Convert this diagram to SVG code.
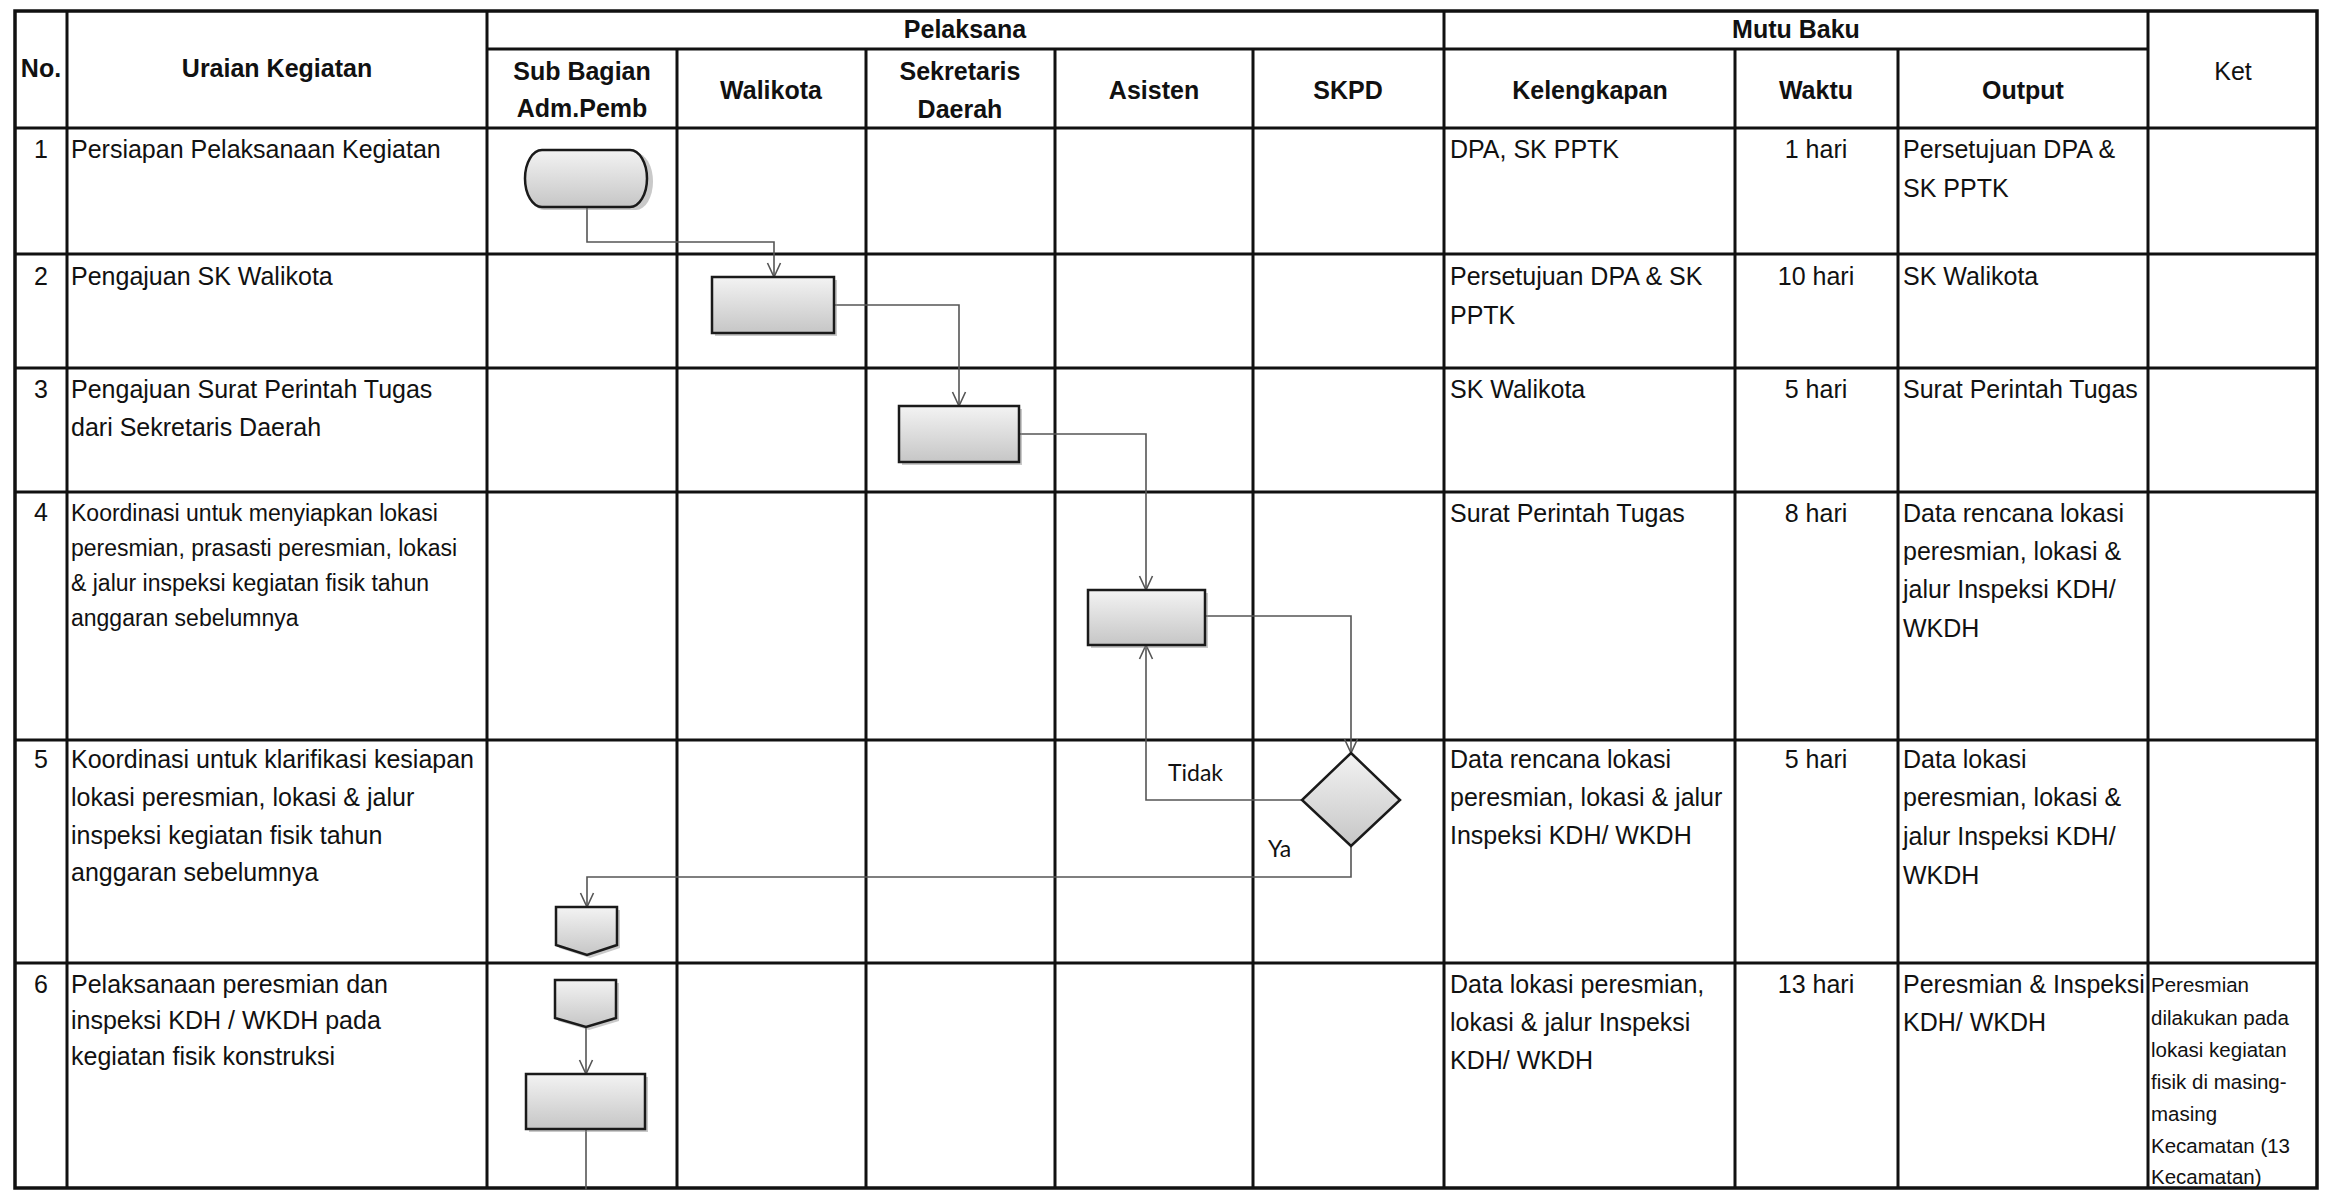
<svg xmlns="http://www.w3.org/2000/svg" width="2329" height="1190" viewBox="0 0 2329 1190">
<defs>
<linearGradient id="gf" x1="0" y1="0" x2="0" y2="1">
<stop offset="0" stop-color="#f3f3f3"/>
<stop offset="1" stop-color="#c6c6c6"/>
</linearGradient>
<marker id="arr" markerUnits="userSpaceOnUse" viewBox="0 0 16 16" refX="15" refY="8" markerWidth="16" markerHeight="16" orient="auto">
<path d="M1,1.5 L15,8 L1,14.5" fill="none" stroke="#555" stroke-width="1.6"/>
</marker>
</defs>
<style>
.g{stroke:#111;stroke-width:3;fill:none}
.o{stroke:#111;stroke-width:3.5;fill:none}
.t{font-family:"Liberation Sans",Arial,sans-serif;font-size:25px;fill:#111}
.t4{font-family:"Liberation Sans",Arial,sans-serif;font-size:23px;fill:#111}
.s{font-family:"Liberation Sans",Arial,sans-serif;font-size:20.5px;fill:#111}
.b{font-family:"Liberation Sans",Arial,sans-serif;font-size:25px;font-weight:bold;fill:#111;text-anchor:middle}
.c{text-anchor:middle}
.l{font-family:Lato,"Open Sans",sans-serif;font-size:23px;fill:#111}
.sh{fill:url(#gf);stroke:#1a1a1a;stroke-width:2.5}
.shd{fill:#888;opacity:0.45}
.cn{fill:none;stroke:#555;stroke-width:1.6}
</style>
<rect width="2329" height="1190" fill="#fff"/>

<g id="table">
<rect class="o" x="15" y="11" width="2302" height="1177"/>
<line class="g" x1="487" y1="49" x2="2148" y2="49"/>
<line class="g" x1="15" y1="128" x2="2317" y2="128"/>
<line class="g" x1="15" y1="254" x2="2317" y2="254"/>
<line class="g" x1="15" y1="368" x2="2317" y2="368"/>
<line class="g" x1="15" y1="492" x2="2317" y2="492"/>
<line class="g" x1="15" y1="740" x2="2317" y2="740"/>
<line class="g" x1="15" y1="963" x2="2317" y2="963"/>
<line class="g" x1="67" y1="11" x2="67" y2="1188"/>
<line class="g" x1="487" y1="11" x2="487" y2="1188"/>
<line class="g" x1="677" y1="49" x2="677" y2="1188"/>
<line class="g" x1="866" y1="49" x2="866" y2="1188"/>
<line class="g" x1="1055" y1="49" x2="1055" y2="1188"/>
<line class="g" x1="1253" y1="49" x2="1253" y2="1188"/>
<line class="g" x1="1444" y1="11" x2="1444" y2="1188"/>
<line class="g" x1="1735" y1="49" x2="1735" y2="1188"/>
<line class="g" x1="1898" y1="49" x2="1898" y2="1188"/>
<line class="g" x1="2148" y1="11" x2="2148" y2="1188"/>
</g>

<g id="header">
<text class="b" x="41" y="77">No.</text>
<text class="b" x="277" y="77">Uraian Kegiatan</text>
<text class="b" x="965" y="38">Pelaksana</text>
<text class="b" x="1796" y="38">Mutu Baku</text>
<text class="b" x="582" y="80">Sub Bagian</text>
<text class="b" x="582" y="117">Adm.Pemb</text>
<text class="b" x="771" y="99">Walikota</text>
<text class="b" x="960" y="80">Sekretaris</text>
<text class="b" x="960" y="118">Daerah</text>
<text class="b" x="1154" y="99">Asisten</text>
<text class="b" x="1348" y="99">SKPD</text>
<text class="b" x="1590" y="99">Kelengkapan</text>
<text class="b" x="1816" y="99">Waktu</text>
<text class="b" x="2023" y="99">Output</text>
<text class="t c" x="2233" y="80">Ket</text>
</g>

<g id="row1">
<text class="t c" x="41" y="158">1</text>
<text class="t" x="71" y="158">Persiapan Pelaksanaan Kegiatan</text>
<text class="t" x="1450" y="158">DPA, SK PPTK</text>
<text class="t c" x="1816" y="158">1 hari</text>
<text class="t" x="1903" y="158">Persetujuan DPA &amp;</text>
<text class="t" x="1903" y="197">SK PPTK</text>
</g>
<g id="row2">
<text class="t c" x="41" y="285">2</text>
<text class="t" x="71" y="285">Pengajuan SK Walikota</text>
<text class="t" x="1450" y="285">Persetujuan DPA &amp; SK</text>
<text class="t" x="1450" y="324">PPTK</text>
<text class="t c" x="1816" y="285">10 hari</text>
<text class="t" x="1903" y="285">SK Walikota</text>
</g>
<g id="row3">
<text class="t c" x="41" y="398">3</text>
<text class="t" x="71" y="398">Pengajuan Surat Perintah Tugas</text>
<text class="t" x="71" y="436">dari Sekretaris Daerah</text>
<text class="t" x="1450" y="398">SK Walikota</text>
<text class="t c" x="1816" y="398">5 hari</text>
<text class="t" x="1903" y="398">Surat Perintah Tugas</text>
</g>
<g id="row4">
<text class="t c" x="41" y="521">4</text>
<text class="t4" x="71" y="521">Koordinasi untuk menyiapkan lokasi</text>
<text class="t4" x="71" y="556">peresmian, prasasti peresmian, lokasi</text>
<text class="t4" x="71" y="591">&amp; jalur inspeksi kegiatan fisik tahun</text>
<text class="t4" x="71" y="626">anggaran sebelumnya</text>
<text class="t" x="1450" y="522">Surat Perintah Tugas</text>
<text class="t c" x="1816" y="522">8 hari</text>
<text class="t" x="1903" y="522">Data rencana lokasi</text>
<text class="t" x="1903" y="560">peresmian, lokasi &amp;</text>
<text class="t" x="1903" y="598">jalur Inspeksi KDH/</text>
<text class="t" x="1903" y="637">WKDH</text>
</g>
<g id="row5">
<text class="t c" x="41" y="768">5</text>
<text class="t" x="71" y="768">Koordinasi untuk klarifikasi kesiapan</text>
<text class="t" x="71" y="806">lokasi peresmian, lokasi &amp; jalur</text>
<text class="t" x="71" y="844">inspeksi kegiatan fisik tahun</text>
<text class="t" x="71" y="881">anggaran sebelumnya</text>
<text class="t" x="1450" y="768">Data rencana lokasi</text>
<text class="t" x="1450" y="806">peresmian, lokasi &amp; jalur</text>
<text class="t" x="1450" y="844">Inspeksi KDH/ WKDH</text>
<text class="t c" x="1816" y="768">5 hari</text>
<text class="t" x="1903" y="768">Data lokasi</text>
<text class="t" x="1903" y="806">peresmian, lokasi &amp;</text>
<text class="t" x="1903" y="845">jalur Inspeksi KDH/</text>
<text class="t" x="1903" y="884">WKDH</text>
</g>
<g id="row6">
<text class="t c" x="41" y="993">6</text>
<text class="t" x="71" y="993">Pelaksanaan peresmian dan</text>
<text class="t" x="71" y="1029">inspeksi KDH / WKDH pada</text>
<text class="t" x="71" y="1065">kegiatan fisik konstruksi</text>
<text class="t" x="1450" y="993">Data lokasi peresmian,</text>
<text class="t" x="1450" y="1031">lokasi &amp; jalur Inspeksi</text>
<text class="t" x="1450" y="1069">KDH/ WKDH</text>
<text class="t c" x="1816" y="993">13 hari</text>
<text class="t" x="1903" y="993">Peresmian &amp; Inspeksi</text>
<text class="t" x="1903" y="1031">KDH/ WKDH</text>
<text class="s" x="2151" y="992">Peresmian</text>
<text class="s" x="2151" y="1025">dilakukan pada</text>
<text class="s" x="2151" y="1057">lokasi kegiatan</text>
<text class="s" x="2151" y="1089">fisik di masing-</text>
<text class="s" x="2151" y="1121">masing</text>
<text class="s" x="2151" y="1153">Kecamatan (13</text>
<text class="s" x="2151" y="1184">Kecamatan)</text>
</g>

<g id="connectors">
<path class="cn" d="M587,207 V242 H774 V277" marker-end="url(#arr)"/>
<path class="cn" d="M834,305 H959 V406" marker-end="url(#arr)"/>
<path class="cn" d="M1019,434 H1146 V590" marker-end="url(#arr)"/>
<path class="cn" d="M1205,616 H1351 V753" marker-end="url(#arr)"/>
<path class="cn" d="M1302,800 H1146 V645" marker-end="url(#arr)"/>
<path class="cn" d="M1351,846 V877 H587 V907" marker-end="url(#arr)"/>
<path class="cn" d="M586,1027 V1074" marker-end="url(#arr)"/>
<path class="cn" d="M586,1129 V1190"/>
<text class="l" x="1168" y="781">Tidak</text>
<text class="l" x="1268" y="857">Ya</text>
</g>

<g id="n1-start">
<path class="shd" d="M544,153 H636 A17 28.5 0 0 1 636,210 H544 A17 28.5 0 0 1 544,153 Z"/>
<path class="sh" d="M542,150 H630 A17 28.5 0 0 1 630,207 H542 A17 28.5 0 0 1 542,150 Z"/>
</g>
<g id="n2-walikota">
<rect class="shd" x="715" y="280" width="122" height="56"/>
<rect class="sh" x="712" y="277" width="122" height="56"/>
</g>
<g id="n3-sekda">
<rect class="shd" x="902" y="409" width="120" height="56"/>
<rect class="sh" x="899" y="406" width="120" height="56"/>
</g>
<g id="n4-asisten">
<rect class="shd" x="1091" y="593" width="117" height="55"/>
<rect class="sh" x="1088" y="590" width="117" height="55"/>
</g>
<g id="n5-decision">
<polygon class="sh" points="1351,753 1400,800 1351,846 1302,800"/>
</g>
<g id="n6-offpage-a">
<polygon class="shd" points="559,910 620,910 620,948 590,958 559,948"/>
<polygon class="sh" points="556,907 617,907 617,945 587,955 556,945"/>
</g>
<g id="n7-offpage-b">
<polygon class="shd" points="558,983 619,983 619,1021 589,1030 558,1021"/>
<polygon class="sh" points="555,980 616,980 616,1018 586,1027 555,1018"/>
</g>
<g id="n8-process">
<rect class="shd" x="529" y="1077" width="119" height="55"/>
<rect class="sh" x="526" y="1074" width="119" height="55"/>
</g>
</svg>
